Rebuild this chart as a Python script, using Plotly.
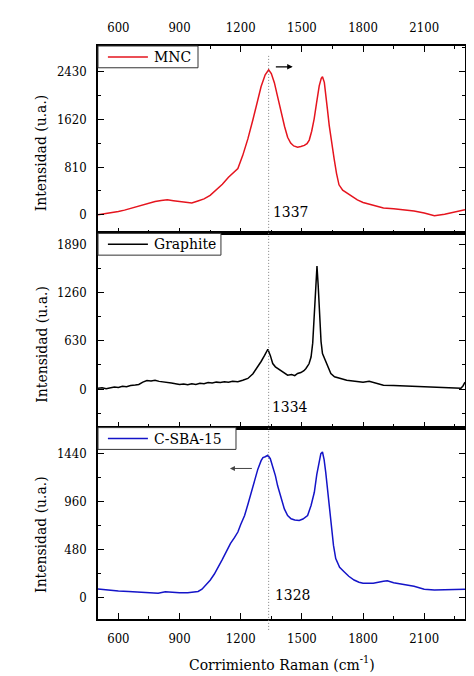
import plotly.graph_objects as go

# ---------------- data ----------------
mnc_x = [500, 520, 550, 580, 600, 630, 660, 700, 740, 780, 810, 840, 870, 900, 930, 960, 990,
         1020, 1050, 1080, 1110, 1140, 1165, 1186, 1210, 1235, 1260, 1284, 1300, 1320, 1337,
         1350, 1365, 1380, 1398, 1415, 1430, 1445, 1460, 1479, 1495, 1512, 1525, 1536, 1548,
         1560, 1572, 1585, 1595, 1601, 1610, 1617, 1625, 1634, 1645, 1658, 1670, 1682, 1700,
         1723, 1750, 1772, 1800, 1850, 1900, 1950, 2000, 2050, 2100, 2150, 2200, 2250, 2300]
mnc_y = [0, 10, 25, 45, 55, 80, 110, 150, 190, 225, 245, 255, 240, 225, 205, 200, 235,
         270, 330, 420, 520, 640, 720, 785, 1010, 1290, 1620, 1964, 2180, 2380, 2465,
         2400, 2245, 2020, 1740, 1500, 1318, 1220, 1170, 1150, 1160, 1180, 1210, 1270, 1420,
         1627, 1900, 2190, 2320, 2345, 2250, 2075, 1800, 1520, 1230, 953, 700, 510, 420,
         364, 300, 253, 210, 160, 115, 105, 90, 65, 30, -15, 10, 45, 85]

graphite_x = [500, 520, 540, 560, 580, 600, 620, 640, 660, 683, 700, 720, 740, 760, 780, 800,
              820, 840, 860, 880, 900, 920, 940, 960, 980, 1000, 1020, 1040, 1060, 1080, 1100,
              1120, 1140, 1160, 1186, 1210, 1235, 1260, 1284, 1300, 1317, 1333, 1345, 1357,
              1370, 1381, 1400, 1415, 1430, 1450, 1465, 1479, 1495, 1510, 1520, 1535, 1545,
              1553, 1561, 1567, 1574, 1580, 1587, 1594, 1601, 1608, 1617, 1630, 1642, 1660,
              1690, 1720, 1750, 1772, 1800, 1830, 1860, 1900, 1950, 2000, 2050, 2100, 2150,
              2200, 2250, 2280, 2290, 2300]
graphite_y = [10, 15, 5, 20, 25, 20, 35, 30, 45, 52, 60, 90, 110, 105, 115, 100,
              95, 85, 78, 70, 60, 65, 55, 70, 60, 75, 70, 85, 80, 90, 85,
              95, 90, 100, 95, 115, 138, 200, 290, 360, 440, 520, 440, 333,
              290, 268, 230, 200, 181, 190, 175, 203, 215, 240, 268, 330, 419,
              600, 937, 1300, 1607, 1350, 937, 620, 463, 420, 376, 280, 203, 160,
              138, 115, 105, 95, 90, 100, 80, 50, 45, 40, 35, 30, 25,
              20, 15, 10, 40, 90]

sba_x = [500, 530, 560, 600, 650, 700, 750, 795, 830, 860, 900, 940, 970, 991, 1010, 1030,
         1050, 1070, 1090, 1110, 1130, 1150, 1170, 1186, 1200, 1219, 1235, 1251, 1268, 1284,
         1300, 1309, 1320, 1333, 1345, 1357, 1370, 1381, 1397, 1414, 1430, 1447, 1465, 1487,
         1505, 1528, 1545, 1561, 1573, 1585, 1593, 1601, 1609, 1617, 1630, 1642, 1655, 1666,
         1685, 1707, 1730, 1756, 1780, 1800, 1850, 1900, 1919, 1950, 2000, 2050, 2100, 2150,
         2200, 2250, 2300]
sba_y = [83, 75, 70, 62, 57, 50, 45, 40, 55, 50, 45, 45, 50, 57, 80, 120,
         170, 230, 300, 380, 460, 540, 600, 654, 730, 820, 930, 1053, 1170, 1285,
         1370, 1401, 1410, 1424, 1390, 1318, 1220, 1118, 1000, 886, 820, 787, 775, 770,
         785, 820, 920, 1053, 1230, 1384, 1440, 1457, 1380, 1252, 980, 720, 520, 388,
         300, 256, 210, 172, 150, 140, 140, 160, 165, 145, 130, 110, 80, 72,
         74, 78, 80]

series_names = ["MNC", "Graphite", "C-SBA-15"]
peak_labels = ["1337", "1334", "1328"]
peak_marker_x = 1337
x_range = [500, 2300]
y_ranges = [[-315, 2868], [-505, 2036], [-219, 1702]]
y_dticks = [810, 630, 480]

# ---------------- style ----------------
FONT = "DejaVu Serif Condensed, DejaVu Serif, serif"
RED = "#E5141E"
BLACK = "#000000"
BLUE = "#1414C8"
colors = [RED, BLACK, BLUE]
doms = [[0.673, 1.0], [0.334, 0.673], [0.0, 0.334]]

fig = go.Figure()
for i, (xs, ys) in enumerate([(mnc_x, mnc_y), (graphite_x, graphite_y), (sba_x, sba_y)]):
    sfx = "" if i == 0 else str(i + 1)
    fig.add_trace(go.Scatter(x=xs, y=ys, mode="lines", name=series_names[i], showlegend=False,
                             line=dict(color=colors[i], width=1.5),
                             xaxis="x" + sfx, yaxis="y" + sfx))

tickfont = dict(family=FONT, size=13, color="black")


def xax(anchor, side, labels, mirror):
    return dict(range=x_range, anchor=anchor, side=side, showticklabels=labels,
                tickmode="linear", tick0=600, dtick=300,
                ticks="inside", ticklen=6, tickwidth=1.2, tickcolor="black",
                minor=dict(dtick=150, tick0=600, ticks="inside", ticklen=3.5, tickwidth=1.2, tickcolor="black"),
                showline=True, linecolor="black", linewidth=1.5, mirror=mirror,
                showgrid=False, zeroline=False, tickfont=tickfont, ticklabelstandoff=7)


def yax(i):
    return dict(domain=doms[i], range=y_ranges[i], anchor=["x", "x2", "x3"][i],
                tickmode="linear", tick0=0, dtick=y_dticks[i],
                ticks="inside", ticklen=6, tickwidth=1.2, tickcolor="black",
                minor=dict(dtick=y_dticks[i] / 2, tick0=0, ticks="inside", ticklen=3.5, tickwidth=1.2, tickcolor="black"),
                showline=True, linecolor="black", linewidth=1.5, mirror="ticks",
                showgrid=False, zeroline=False, tickfont=tickfont, ticklabelstandoff=7)


fig.update_layout(
    width=474, height=676, autosize=False,
    margin=dict(l=90, r=17, t=33, b=65),
    paper_bgcolor="white", plot_bgcolor="white",
    xaxis=xax("y", "top", True, "ticks"),
    xaxis2=dict(xax("y2", "bottom", False, True), matches="x"),
    xaxis3=dict(xax("y3", "bottom", True, True), matches="x"),
    yaxis=yax(0), yaxis2=yax(1), yaxis3=yax(2),
    showlegend=False,
    font=dict(family=FONT, color="black"),
)

fig.add_shape(type="line", xref="x", yref="paper", x0=peak_marker_x, x1=peak_marker_x,
              y0=-0.019, y1=0.983, line=dict(color="#808080", width=1, dash="1px,2px"))

leg_right = [0.2725, 0.335, 0.376]
leg_top = [1.0, 0.673, 0.334]
leg_h = 0.038
for i in range(3):
    fig.add_shape(type="rect", xref="paper", yref="paper", x0=0, x1=leg_right[i],
                  y0=leg_top[i] - leg_h, y1=leg_top[i], fillcolor="white",
                  line=dict(color="#333", width=1), layer="above")
    yc = leg_top[i] - leg_h / 2
    fig.add_shape(type="line", xref="paper", yref="paper", x0=0.027, x1=0.136, y0=yc, y1=yc,
                  line=dict(color=colors[i], width=1.5), layer="above")
    fig.add_annotation(x=0.148, y=yc, xref="paper", yref="paper", text=series_names[i],
                       showarrow=False, xanchor="left", yanchor="middle",
                       font=dict(family=FONT, size=15.5, color="black"))

label_pos = [("x", "y", 1445, 55), ("x2", "y2", 1440, -233), ("x3", "y3", 1455, 20)]
for (xr, yr, xv, yv), t in zip(label_pos, peak_labels):
    fig.add_annotation(x=xv, y=yv, xref=xr, yref=yr, text=t, showarrow=False,
                       font=dict(family=FONT, size=15.5, color="black"))

fig.add_annotation(x=1455, y=2514, ax=1365, ay=2514, xref="x", yref="y", axref="x", ayref="y",
                   text="", showarrow=True, arrowhead=2, arrowsize=1, arrowwidth=1.1, arrowcolor="black")
fig.add_annotation(x=1147, y=1292, ax=1262, ay=1292, xref="x3", yref="y3", axref="x3", ayref="y3",
                   text="", showarrow=True, arrowhead=2, arrowsize=1, arrowwidth=1, arrowcolor="#444")

for yc in [0.813, 0.479, 0.147]:
    fig.add_annotation(x=-0.155, y=yc, xref="paper", yref="paper", text="Intensidad (u.a.)",
                       textangle=-90, showarrow=False, xanchor="center", yanchor="middle",
                       font=dict(family=FONT, size=15.5, color="black"))
fig.add_annotation(x=0.5, y=-0.078, xref="paper", yref="paper",
                   text="Corrimiento Raman (cm<sup>-1</sup>)", showarrow=False,
                   xanchor="center", yanchor="middle", font=dict(family=FONT, size=15.5, color="black"))

fig.write_html("out.html")
